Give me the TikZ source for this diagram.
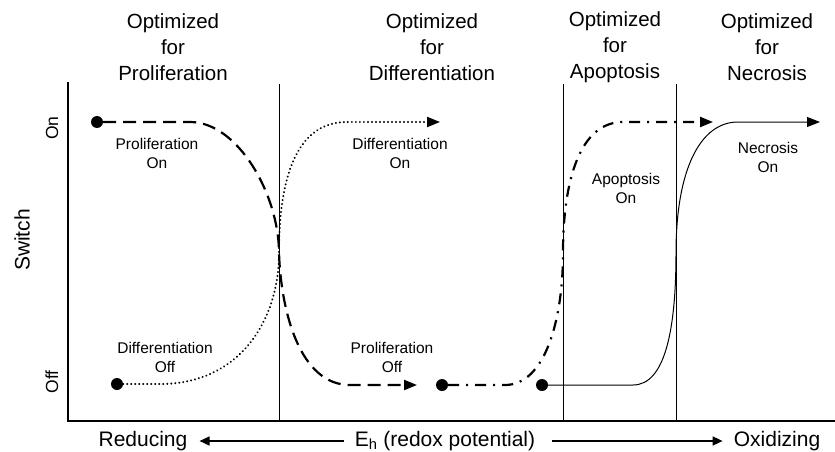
\documentclass[tikz,border=0pt]{standalone}
\usepackage{fontspec}
\setmainfont{Liberation Sans}
\usetikzlibrary{arrows.meta}
\begin{document}
\begin{tikzpicture}[x=1pt,y=-1pt,
  title/.style={align=center, font=\fontsize{20.5}{26}\selectfont, inner sep=0},
  lab/.style={align=center, font=\fontsize{15.5}{19}\selectfont, inner sep=0},
  axlab/.style={font=\fontsize{21}{25}\selectfont, inner sep=0},
  sidelab/.style={font=\fontsize{17.5}{20}\selectfont, inner sep=0, rotate=90},
  dot/.style={circle, fill=black, inner sep=0, minimum size=12pt},
  tip/.style={-{Triangle[length=13pt,width=10pt]}},
  prolif/.style={line width=2.2pt, dash pattern=on 13pt off 7pt},
  diff/.style={line width=2.2pt, line cap=round, dash pattern=on 0.01pt off 4pt},
  apop/.style={line width=2.2pt, dash pattern=on 11pt off 7pt on 2pt off 7pt},
  necro/.style={line width=1pt},
  frame/.style={line width=1.8pt},
  divider/.style={line width=1pt},
  axarrow/.style={line width=1.6pt, -{Triangle[length=10pt,width=9pt]}},
]
\useasboundingbox (0,0) rectangle (835,452);

% frame and dividers
\coordinate (ftop) at (68,82);
\coordinate (forig) at (68,421);
\coordinate (fright) at (835,421);
\draw[frame] (ftop) -- (forig) -- (fright);
\coordinate (d1t) at (279,84); \coordinate (d1b) at (279,421);
\coordinate (d2t) at (563,84); \coordinate (d2b) at (563,421);
\coordinate (d3t) at (676,84); \coordinate (d3b) at (676,421);
\draw[divider] (d1t) -- (d1b);
\draw[divider] (d2t) -- (d2b);
\draw[divider] (d3t) -- (d3b);

% titles
\node[title] (t1) at (173,47) {Optimized\\for\\Proliferation};
\node[title] (t2) at (432,47) {Optimized\\for\\Differentiation};
\node[title] (t3) at (615,47) {Optimized\\for\\Apoptosis};
\node[title] (t4) at (767,47) {Optimized\\for\\Necrosis};

% side labels
\node[sidelab] (on) at (52,128) {On};
\node[sidelab] (off) at (52,382) {Off};
\node[axlab, rotate=90] (sw) at (22,240) {Switch};

% dots
\node[dot] (pon) at (97,122) {};
\node[dot] (doff) at (117,384) {};
\node[dot] (aoff) at (442,385) {};
\node[dot] (noff) at (542,385) {};
\coordinate (pend) at (417,385);
\coordinate (dend) at (440,122);
\coordinate (aend) at (713,122);
\coordinate (nend) at (820,122);

% proliferation (dashed)
\draw[prolif, tip] (pon) -- (190,122)
  .. controls (238,122) and (279,195) .. (279,253)
  .. controls (281,312) and (300,385) .. (350,385) -- (pend);

% differentiation (dotted)
\draw[diff, tip] (doff) -- (160,384)
  .. controls (240,384) and (279,320) .. (279,253)
  .. controls (279,170) and (300,122) .. (347,122) -- (dend);

% apoptosis (dash-dot)
\draw[apop, tip] (aoff) -- (505,385)
  .. controls (545,385) and (563,320) .. (563,253)
  .. controls (563,180) and (580,122) .. (623,122) -- (aend);

% necrosis (solid)
\draw[necro, tip] (noff) -- (633,385)
  .. controls (665,385) and (676,330) .. (676,253)
  .. controls (676,170) and (700,122) .. (738,122) -- (nend);

% curve labels
\node[lab] (l1) at (157,153) {Proliferation\\On};
\node[lab] (l2) at (165,357) {Differentiation\\Off};
\node[lab] (l3) at (400,153) {Differentiation\\On};
\node[lab] (l4) at (392,357) {Proliferation\\Off};
\node[lab] (l5) at (626,188) {Apoptosis\\On};
\node[lab] (l6) at (768,157) {Necrosis\\On};

% bottom axis
\node[axlab] (red) at (143,441) {Reducing};
\node[axlab] (eh) at (445,441) {E\textsubscript{h} (redox potential)};
\node[axlab] (ox) at (777,441) {Oxidizing};
\draw[axarrow] ([xshift=-11pt]eh.west) -- ([xshift=12pt]red.east);
\draw[axarrow] ([xshift=17pt]eh.east) -- ([xshift=-11pt]ox.west);
\end{tikzpicture}
\end{document}
